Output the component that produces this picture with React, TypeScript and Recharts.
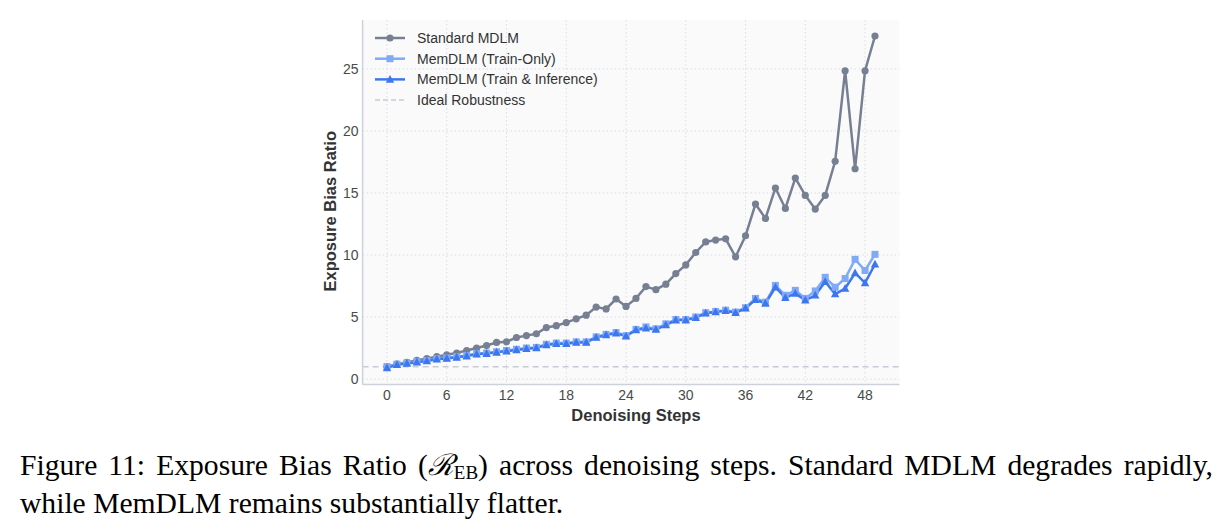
import React from "react";
import {
  LineChart,
  Line,
  XAxis,
  YAxis,
  CartesianGrid,
  ReferenceLine,
  Legend,
  Label,
} from "recharts";

// denoising step index
const steps = Array.from({ length: 50 }, (_, i) => i);

const standardMdlm = [
  1.0, 1.2, 1.35, 1.5, 1.65, 1.8, 1.95, 2.1, 2.3, 2.5,
  2.7, 2.95, 3.0, 3.35, 3.5, 3.65, 4.15, 4.3, 4.55, 4.85,
  5.15, 5.8, 5.65, 6.45, 5.85, 6.5, 7.45, 7.2, 7.65, 8.5,
  9.2, 10.2, 11.05, 11.2, 11.3, 9.85, 11.55, 14.1, 12.95, 15.4,
  13.75, 16.2, 14.8, 13.7, 14.8, 17.55, 24.85, 16.95, 24.85, 27.65,
];

const memTrainOnly = [
  1.0, 1.2, 1.3, 1.4, 1.5, 1.65, 1.7, 1.8, 1.9, 2.05,
  2.1, 2.2, 2.3, 2.4, 2.5, 2.55, 2.8, 2.9, 2.9, 3.0,
  3.0, 3.4, 3.6, 3.75, 3.5, 4.0, 4.2, 4.05, 4.45, 4.8,
  4.8, 5.0, 5.35, 5.45, 5.55, 5.4, 5.75, 6.5, 6.2, 7.55,
  6.75, 7.15, 6.5, 7.1, 8.2, 7.4, 8.1, 9.65, 8.75, 10.05,
];

const memTrainInf = [
  0.9, 1.15, 1.25, 1.35, 1.45, 1.6, 1.65, 1.75, 1.85, 2.0,
  2.05, 2.15, 2.25, 2.35, 2.45, 2.5, 2.75, 2.85, 2.85, 2.95,
  2.95, 3.35, 3.55, 3.7, 3.45, 3.95, 4.1, 4.0, 4.35, 4.75,
  4.75, 4.95, 5.3, 5.4, 5.5, 5.35, 5.7, 6.4, 6.1, 7.4,
  6.55, 6.9, 6.35, 6.75, 7.85, 6.85, 7.3, 8.55, 7.75, 9.25,
];

const xTicks = [0, 6, 12, 18, 24, 30, 36, 42, 48];
const yTicks = [0, 5, 10, 15, 20, 25];

const data = steps.map((s, i) => ({
  step: s,
  std: standardMdlm[i],
  trainOnly: memTrainOnly[i],
  trainInf: memTrainInf[i],
}));

const GRAY = "#778092";
const LIGHT = "#80aaf6";
const DARK = "#3d77ef";
const IDEAL = "#c6cbd7";
const FONT = "'Liberation Sans', Arial, sans-serif";

const legendItems = [
  { name: "Standard MDLM", color: GRAY, marker: "circle" },
  { name: "MemDLM (Train-Only)", color: LIGHT, marker: "square" },
  { name: "MemDLM (Train & Inference)", color: DARK, marker: "triangle" },
  { name: "Ideal Robustness", color: IDEAL, marker: "dash" },
];

const Marker = ({ type, cx, cy, color }: any) => {
  if (type === "circle") return <circle cx={cx} cy={cy} r={3.6} fill={color} />;
  if (type === "square")
    return <rect x={cx - 3.5} y={cy - 3.5} width={7} height={7} fill={color} />;
  if (type === "triangle")
    return (
      <polygon
        points={`${cx},${cy - 4.5} ${cx + 4.2},${cy + 3.3} ${cx - 4.2},${cy + 3.3}`}
        fill={color}
      />
    );
  return null;
};

const dotFor = (type: string, color: string) => (props: any) => {
  const { cx, cy, index } = props;
  if (cx == null || cy == null) return <g key={index} />;
  return (
    <g key={index}>
      <Marker type={type} cx={cx} cy={cy} color={color} />
    </g>
  );
};

const renderLegend = () => (
  <svg width={260} height={90} style={{ display: "block" }}>
    {legendItems.map((it, i) => {
      const y = 10 + i * 20.7;
      return (
        <g key={it.name}>
          <line
            x1={3}
            x2={33}
            y1={y}
            y2={y}
            stroke={it.color}
            strokeWidth={it.marker === "dash" ? 1.5 : 2.5}
            strokeDasharray={it.marker === "dash" ? "5 3" : undefined}
          />
          <Marker type={it.marker} cx={18} cy={y} color={it.color} />
          <text
            x={45}
            y={y}
            dominantBaseline="central"
            fontFamily={FONT}
            fontSize={14}
            fill="#333"
          >
            {it.name}
          </text>
        </g>
      );
    })}
  </svg>
);

const YLabel = ({ viewBox }: any) => {
  const cx = viewBox.x + 7;
  const cy = viewBox.y + viewBox.height / 2 + 9;
  return (
    <text
      x={cx}
      y={cy}
      transform={`rotate(-90 ${cx} ${cy})`}
      textAnchor="middle"
      dominantBaseline="central"
      fontFamily={FONT}
      fontWeight="bold"
      fontSize={16.5}
      fill="#333"
    >
      Exposure Bias Ratio
    </text>
  );
};

const XLabel = ({ viewBox }: any) => (
  <text
    x={viewBox.x + viewBox.width / 2 + 5}
    y={viewBox.y + 30}
    textAnchor="middle"
    dominantBaseline="central"
    fontFamily={FONT}
    fontWeight="bold"
    fontSize={16.5}
    fill="#333"
  >
    Denoising Steps
  </text>
);

export default function App() {
  return (
    <div
      style={{
        position: "absolute",
        left: 0,
        top: 0,
        width: 1224,
        height: 531,
        background: "#fff",
      }}
    >
      <LineChart
        width={1224}
        height={440}
        data={data}
        margin={{ top: 20, right: 324.6, left: 322.6, bottom: 15.5 }}
      >
        <CartesianGrid
          stroke="#dcdde2"
          strokeDasharray="1.5 2.5"
          fill="#fafafb"
          horizontalValues={yTicks}
          verticalValues={xTicks}
        />
        <XAxis
          dataKey="step"
          type="number"
          domain={[-2.45, 51.45]}
          ticks={xTicks}
          allowDataOverflow
          height={40}
          tickLine={false}
          tickSize={0}
          tickMargin={6}
          axisLine={{ stroke: "#ccd1dc", strokeWidth: 1.5 }}
          tick={{ fontSize: 14, fontFamily: FONT, fill: "#4a4a4a" }}
        >
          <Label content={<XLabel />} />
        </XAxis>
        <YAxis
          type="number"
          domain={[-0.44, 28.94]}
          ticks={yTicks}
          allowDataOverflow
          width={40}
          tickLine={false}
          tickSize={0}
          tickMargin={4}
          axisLine={{ stroke: "#ccd1dc", strokeWidth: 1.5 }}
          tick={{ fontSize: 14, fontFamily: FONT, fill: "#4a4a4a" }}
        >
          <Label content={<YLabel />} />
        </YAxis>
        <ReferenceLine
          y={1}
          stroke={IDEAL}
          strokeWidth={1.5}
          strokeDasharray="6 4"
        />
        <Line
          dataKey="std"
          stroke={GRAY}
          strokeWidth={2.5}
          dot={dotFor("circle", GRAY)}
          isAnimationActive={false}
        />
        <Line
          dataKey="trainOnly"
          stroke={LIGHT}
          strokeWidth={2.5}
          dot={dotFor("square", LIGHT)}
          isAnimationActive={false}
        />
        <Line
          dataKey="trainInf"
          stroke={DARK}
          strokeWidth={2.5}
          dot={dotFor("triangle", DARK)}
          isAnimationActive={false}
        />
        <Legend
          layout="vertical"
          align="center"
          verticalAlign="middle"
          content={renderLegend}
          wrapperStyle={{ left: 372, top: 28, width: 260 }}
        />
      </LineChart>
      <div
        style={{
          position: "absolute",
          left: 20,
          top: 450,
          width: 1193,
          fontFamily: "'Liberation Serif', 'Times New Roman', serif",
          fontSize: 29.6,
          lineHeight: "30px",
          color: "#000",
          whiteSpace: "nowrap",
        }}
      >
        <div style={{ textAlign: "justify", textAlignLast: "justify" }}>
          Figure 11: Exposure Bias Ratio (
          <span style={{ fontStyle: "italic" }}>ℛ</span>
          <sub style={{ fontSize: 19, verticalAlign: "-4px" }}>EB</sub>) across
          denoising steps. Standard MDLM degrades rapidly,
        </div>
        <div>while MemDLM remains substantially flatter.</div>
      </div>
    </div>
  );
}
